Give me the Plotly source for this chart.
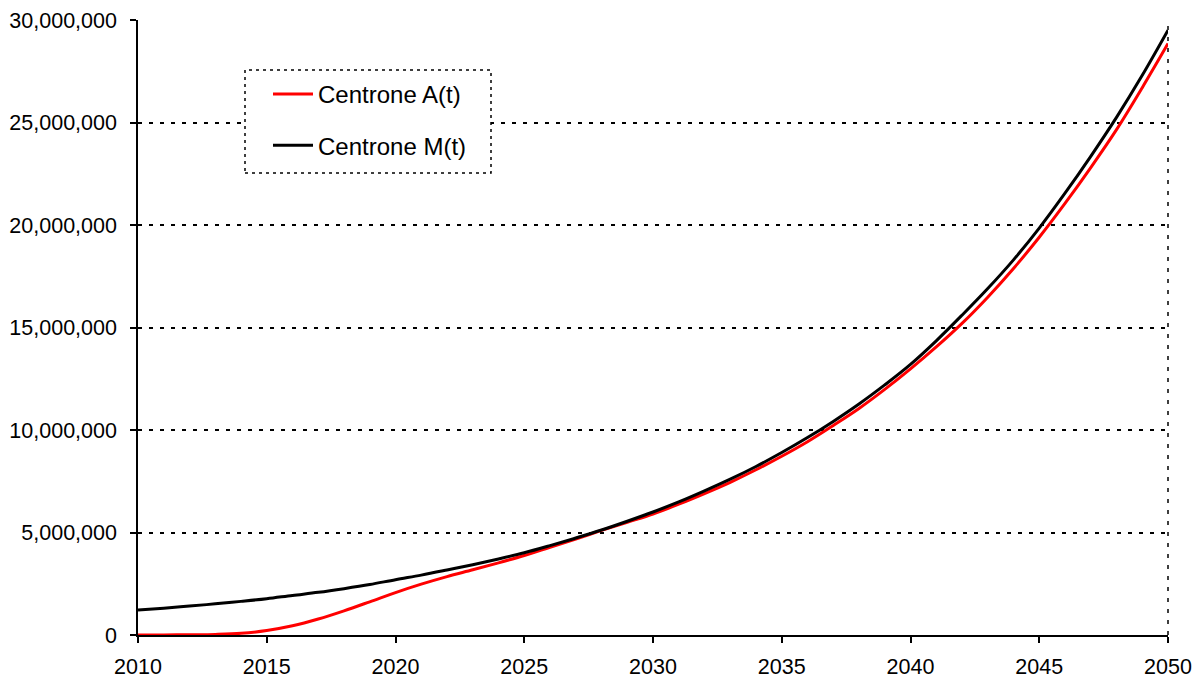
import plotly.graph_objects as go

years = list(range(2010, 2051))

centrone_a = [0.0, 0.005, 0.015, 0.03, 0.08, 0.22, 0.45, 0.78, 1.18, 1.62,
              2.07, 2.48, 2.85, 3.18, 3.52, 3.88, 4.28, 4.68, 5.10, 5.50,
              5.90, 6.38, 6.90, 7.45, 8.06, 8.72, 9.43, 10.22, 11.05, 11.98,
              12.98, 14.05, 15.20, 16.48, 17.88, 19.40, 21.05, 22.80, 24.65, 26.70,
              28.85]
centrone_m = [1.22, 1.31, 1.41, 1.52, 1.64, 1.77, 1.93, 2.08, 2.26, 2.46,
              2.70, 2.92, 3.17, 3.43, 3.71, 4.01, 4.36, 4.73, 5.12, 5.55,
              6.00, 6.49, 7.03, 7.60, 8.22, 8.90, 9.63, 10.42, 11.27, 12.20,
              13.20, 14.35, 15.60, 16.90, 18.30, 19.85, 21.55, 23.35, 25.25, 27.30,
              29.50]
a_vals = [v * 1e6 for v in centrone_a]
m_vals = [v * 1e6 for v in centrone_m]

x_ticks = [2010, 2015, 2020, 2025, 2030, 2035, 2040, 2045, 2050]
y_ticks = [0, 5e6, 10e6, 15e6, 20e6, 25e6, 30e6]
y_labels = ["0", "5,000,000", "10,000,000", "15,000,000", "20,000,000", "25,000,000", "30,000,000"]

font = "Liberation Sans, Arial, Helvetica, sans-serif"

fig = go.Figure()
fig.add_trace(go.Scatter(x=years, y=a_vals, mode="lines", name="Centrone A(t)",
                         line=dict(color="#ff0000", width=3, shape="spline"),
                         legendgroup="a"))
fig.add_trace(go.Scatter(x=years, y=m_vals, mode="lines", name="Centrone M(t)",
                         line=dict(color="#000000", width=3, shape="spline"),
                         legendgroup="m"))

fig.update_layout(
    width=1202, height=681,
    margin=dict(l=138, r=34, t=20, b=46),
    paper_bgcolor="white", plot_bgcolor="white",
    font=dict(family=font, size=21.5, color="black"),
    showlegend=True,
    legend=dict(x=(268 - 138) / 1030, y=(635 - 72) / 615, xanchor="left", yanchor="top",
                bgcolor="rgba(0,0,0,0)", borderwidth=0,
                font=dict(size=24, family=font, color="black"),
                traceorder="grouped", tracegroupgap=17, itemwidth=40),
    xaxis=dict(range=[2010, 2050], tickvals=x_ticks, ticks="outside", ticklen=6,
               tickwidth=1.5, tickcolor="black", showline=True, linecolor="black",
               linewidth=1.5, showgrid=False, zeroline=False, ticklabelstandoff=5,
               automargin=False),
    yaxis=dict(range=[0, 30e6], tickvals=y_ticks, ticktext=y_labels, ticks="outside",
               ticklen=6, tickwidth=1.5, tickcolor="black", showline=True,
               linecolor="black", linewidth=1.5, showgrid=True, gridcolor="black",
               gridwidth=1.5, griddash="4px,7px", zeroline=False, ticklabelstandoff=9,
               automargin=False),
    shapes=[
        dict(type="line", xref="paper", yref="paper", x0=1, x1=1, y0=0, y1=1,
             line=dict(color="black", width=1.5, dash="4px,7px"), layer="below"),
        dict(type="rect", xref="paper", yref="paper",
             x0=(245 - 138) / 1030, x1=(491 - 138) / 1030,
             y0=(635 - 173) / 615, y1=(635 - 70) / 615,
             fillcolor="white", line=dict(color="black", width=1.5, dash="3px,4px"),
             layer="above"),
    ],
)

fig.write_html("out.html", config={"displayModeBar": False},
               post_script="document.body.style.margin='0';")
